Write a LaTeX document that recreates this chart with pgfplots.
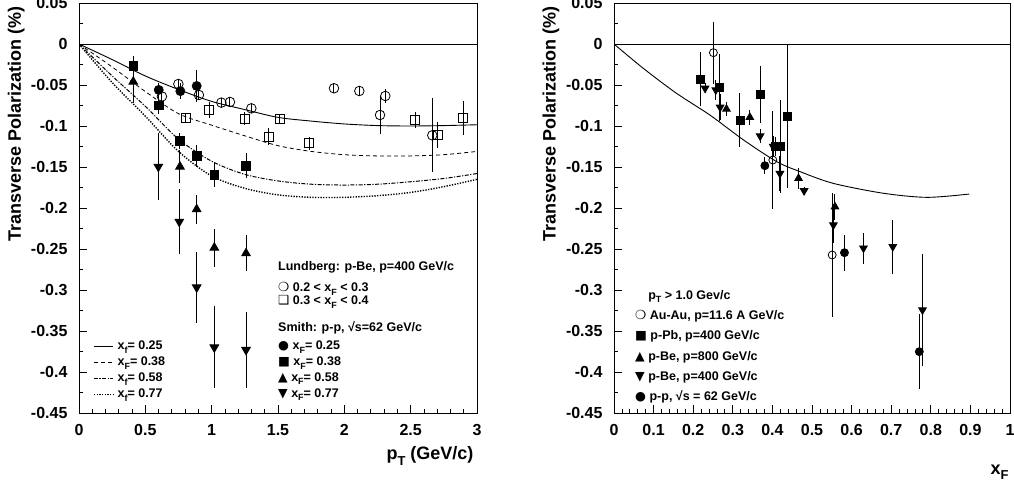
\documentclass[border=0pt]{standalone}
\usepackage{fontspec}
\setmainfont{Liberation Sans}
\newfontfamily\sym{DejaVu Sans}
\usepackage{graphicx}
\usepackage{pgfplots}
\pgfplotsset{compat=1.18}
\newcommand\sub[1]{\raisebox{-0.3em}{\scalebox{0.72}{#1}}}

\pgfplotsset{
 rootax/.style={
  scale only axis, width=398pt, height=410pt, anchor=south west,
  axis line style={line width=0.9pt},
  tick align=inside, xtick pos=bottom, ytick pos=left,
  major tick length=8pt, minor tick length=4pt,
  every tick/.style={black, line width=0.8pt},
  ymin=-0.45, ymax=0.05,
  ytick={-0.45,-0.4,-0.35,-0.3,-0.25,-0.2,-0.15,-0.1,-0.05,0,0.05},
  yticklabels={-0.45,-0.4,-0.35,-0.3,-0.25,-0.2,-0.15,-0.1,-0.05,0,0.05},
  minor y tick num=1,
  tick label style={font=\bfseries\fontsize{16}{16}\selectfont},
  yticklabel style={xshift=-8pt},
  xticklabel style={yshift=-8pt},
  label style={font=\bfseries\fontsize{18}{18}\selectfont},
  ylabel={Transverse Polarization (\%)},
  ylabel style={at={(axis description cs:-0.158,1.0)}, anchor=east},
 },
 eb/.style={only marks, black, line width=0.8pt, forget plot,
   error bars/y dir=both, error bars/y explicit, error bars/error mark=none,
   error bars/error bar style={line width=1pt, black}},
}
\tikzset{lg/.style={font=\bfseries\fontsize{12.5}{13}\selectfont, anchor=base west, inner sep=0pt}}

\begin{document}
\begin{tikzpicture}

% ---------------- left panel ----------------
\begin{axis}[rootax, at={(79pt,68pt)},
  xmin=0, xmax=3,
  xtick={0,0.5,1,1.5,2,2.5,3},
  xticklabels={0,0.5,1,1.5,2,2.5,3},
  minor x tick num=4,
  xlabel={p\sub{T} (GeV/c)},
  xlabel style={at={(axis description cs:1,-0.105)}, anchor=east},
  legend style={at={(axis cs:0.1055,-0.3616)}, anchor=north west, draw=none, fill=none,
     inner sep=0pt, row sep=4pt, cells={anchor=west},
     font=\bfseries\fontsize{12.5}{13}\selectfont,
     nodes={inner sep=0pt, text height=9pt, text depth=3pt},
     /tikz/every odd column/.append style={column sep=4pt}},
  legend image code/.code={\draw[#1] (0pt,0pt) -- (19pt,0pt);},
]
\addplot[black, line width=0.9pt, smooth] coordinates {
 (0,0) (0.25,-0.019) (0.5,-0.039) (0.75,-0.0555) (1.0,-0.070) (1.25,-0.080)
 (1.5,-0.0895) (1.75,-0.094) (2.0,-0.0975) (2.25,-0.0995) (2.5,-0.100)
 (2.75,-0.0995) (3.0,-0.0985)};
\addlegendentry{x\sub{f}= 0.25}
\addplot[black, line width=0.8pt, dash pattern=on 4pt off 3pt, smooth] coordinates {
 (0,0) (0.25,-0.028) (0.5,-0.058) (0.75,-0.085) (1.0,-0.099) (1.25,-0.112)
 (1.5,-0.124) (1.75,-0.131) (2.0,-0.135) (2.25,-0.1365) (2.5,-0.1365)
 (2.75,-0.135) (3.0,-0.131)};
\addlegendentry{x\sub{F}= 0.38}
\addplot[black, line width=1pt, dash pattern=on 4pt off 1.5pt on 1.2pt off 1.5pt, smooth] coordinates {
 (0,0) (0.25,-0.039) (0.5,-0.076) (0.75,-0.116) (1.0,-0.143) (1.25,-0.159)
 (1.5,-0.167) (1.75,-0.171) (2.0,-0.172) (2.25,-0.171) (2.5,-0.168)
 (2.75,-0.164) (3.0,-0.158)};
\addlegendentry{x\sub{f}= 0.58}
\addplot[black, line width=1.4pt, dash pattern=on 1.3pt off 1.4pt, smooth] coordinates {
 (0,0) (0.25,-0.047) (0.5,-0.088) (0.75,-0.131) (1.0,-0.161) (1.25,-0.176)
 (1.5,-0.184) (1.75,-0.187) (2.0,-0.187) (2.25,-0.185) (2.5,-0.181)
 (2.75,-0.174) (3.0,-0.165)};
\addlegendentry{x\sub{f}= 0.77}

\addplot[black, line width=0.8pt, forget plot] coordinates {(0,0) (3,0)};

% Lundberg 0.2<xF<0.3 (open circles)
\addplot[eb, mark=o, mark size=4.8pt] table[x=x,y=y,y error=e, row sep=\\] {
x y e \\
0.625 -0.0640 0.006 \\
0.749 -0.0488 0.006 \\
0.904 -0.0622 0.006 \\
1.073 -0.0715 0.006 \\
1.138 -0.0707 0.006 \\
1.299 -0.0785 0.006 \\
1.922 -0.0540 0.006 \\
2.113 -0.0573 0.006 \\
2.309 -0.0634 0.008 \\
2.269 -0.0866 0.023 \\
2.663 -0.1114 0.045 \\
};
% Lundberg 0.3<xF<0.4 (open squares)
\addplot[eb, mark=square, mark size=4.5pt] table[x=x,y=y,y error=e, row sep=\\] {
x y e \\
0.806 -0.0906 0.006 \\
0.982 -0.0805 0.010 \\
1.249 -0.0910 0.008 \\
1.430 -0.1130 0.010 \\
1.515 -0.0919 0.006 \\
1.736 -0.1211 0.008 \\
2.535 -0.0927 0.010 \\
2.706 -0.1112 0.016 \\
2.897 -0.0904 0.021 \\
};
% Smith xF=0.25 (filled circles)
\addplot[eb, mark=*, mark size=4.5pt] table[x=x,y=y,y error=e, row sep=\\] {
x y e \\
0.601 -0.0560 0.009 \\
0.764 -0.0575 0.010 \\
0.887 -0.0512 0.019 \\
};
% Smith xF=0.38 (filled squares)
\addplot[eb, mark=square*, mark size=4.3pt] table[x=x,y=y,y error=e, row sep=\\] {
x y e \\
0.409 -0.0268 0.012 \\
0.601 -0.0748 0.010 \\
0.761 -0.1180 0.010 \\
0.887 -0.1366 0.013 \\
1.020 -0.1594 0.0145 \\
1.259 -0.1484 0.015 \\
};
% Smith xF=0.58 (triangles up)
\addplot[eb, mark=triangle*, mark size=5pt] table[x=x,y=y,y error=e, row sep=\\] {
x y e \\
0.409 -0.0460 0.026 \\
0.761 -0.1496 0.020 \\
0.887 -0.2016 0.018 \\
1.020 -0.2484 0.023 \\
1.259 -0.2553 0.022 \\
};
% Smith xF=0.77 (triangles down)
\addplot[eb, mark=triangle*, mark size=5pt, mark options={rotate=180}] table[x=x,y=y,y error=e, row sep=\\] {
x y e \\
0.598 -0.1496 0.041 \\
0.756 -0.2167 0.040 \\
0.887 -0.2968 0.043 \\
1.020 -0.3700 0.050 \\
1.259 -0.3730 0.046 \\
};

\node[lg] at (axis cs:1.5,-0.2768) {Lundberg: p-Be, p=400 GeV/c};
\node[lg] at (axis cs:1.5,-0.3018) {{\sym ❍} 0.2 < x\sub{F} < 0.3};
\node[lg] at (axis cs:1.5,-0.3177) {{\sym ❑} 0.3 < x\sub{F} < 0.4};
\node[lg] at (axis cs:1.5,-0.3512) {Smith: p-p, √s=62 GeV/c};
\node[lg] at (axis cs:1.5,-0.3726) {{\sym ●} x\sub{F}= 0.25};
\node[lg] at (axis cs:1.5,-0.3920) {{\sym ■} x\sub{F}= 0.38};
\node[lg] at (axis cs:1.5,-0.4110) {{\sym ▲} x\sub{F}= 0.58};
\node[lg] at (axis cs:1.5,-0.4305) {{\sym ▼} x\sub{F}= 0.77};
\end{axis}

% ---------------- right panel ----------------
\begin{axis}[rootax, at={(614pt,68pt)}, width=396pt,
  xmin=0, xmax=1,
  xtick={0,0.1,0.2,0.3,0.4,0.5,0.6,0.7,0.8,0.9,1},
  xticklabels={0,0.1,0.2,0.3,0.4,0.5,0.6,0.7,0.8,0.9,1},
  minor x tick num=4,
  xlabel={x\sub{F}},
  xlabel style={at={(axis description cs:1.005,-0.144)}, anchor=east},
  ylabel style={at={(axis description cs:-0.159,1.0)}, anchor=east},
]
\addplot[black, line width=0.8pt, forget plot] coordinates {(0,0) (1,0)};
\addplot[black, line width=0.9pt, smooth, forget plot] coordinates {
 (0,0) (0.074,-0.0297) (0.158,-0.0602) (0.242,-0.0866) (0.327,-0.1170)
 (0.411,-0.1435) (0.47,-0.1557) (0.554,-0.1700) (0.68,-0.1820)
 (0.79,-0.1870) (0.897,-0.1830)};

% Au-Au open circles
\addplot[eb, mark=o, mark size=4pt] table[x=x,y=y,y error=e, row sep=\\] {
x y e \\
0.251 -0.0106 0.038 \\
0.401 -0.1415 0.0595 \\
0.551 -0.2573 0.076 \\
};
% p-Pb squares
\addplot[eb, mark=square*, mark size=4pt] table[x=x,y=y,y error=e, row sep=\\] {
x y e \\
0.219 -0.0431 0.033 \\
0.266 -0.0528 0.041 \\
0.318 -0.0927 0.033 \\
0.369 -0.0614 0.0345 \\
0.407 -0.1250 0.012 \\
0.421 -0.1250 0.057 \\
0.438 -0.0878 0.088 \\
};
% p-Be 800 triangles up
\addplot[eb, mark=triangle*, mark size=4.4pt] table[x=x,y=y,y error=e, row sep=\\] {
x y e \\
0.284 -0.0793 0.009 \\
0.343 -0.0894 0.009 \\
0.466 -0.1638 0.013 \\
0.558 -0.1985 0.016 \\
};
% p-Be 400 triangles down
\addplot[eb, mark=triangle*, mark size=4.4pt, mark options={rotate=180}] table[x=x,y=y,y error=e, row sep=\\] {
x y e \\
0.230 -0.0540 0.006 \\
0.257 -0.0561 0.012 \\
0.268 -0.0772 0.016 \\
0.369 -0.1122 0.008 \\
0.402 -0.1250 0.013 \\
0.419 -0.1580 0.021 \\
0.480 -0.1790 0.005 \\
0.554 -0.2207 0.022 \\
0.630 -0.2490 0.019 \\
0.704 -0.2472 0.033 \\
0.779 -0.3244 0.068 \\
};
% p-p circles
\addplot[eb, mark=*, mark size=4pt] table[x=x,y=y,y error=e, row sep=\\] {
x y e \\
0.381 -0.1484 0.010 \\
0.582 -0.2545 0.022 \\
0.771 -0.3752 0.046 \\
};

\node[lg] at (axis cs:0.086,-0.311) {p\sub{T} > 1.0 Gev/c};
\node[lg] at (axis cs:0.053,-0.3354) {{\sym ❍} Au-Au, p=11.6 A GeV/c};
\node[lg] at (axis cs:0.053,-0.3598) {{\sym ■} p-Pb, p=400 GeV/c};
\node[lg] at (axis cs:0.053,-0.3854) {{\sym ▲} p-Be, p=800 GeV/c};
\node[lg] at (axis cs:0.053,-0.4106) {{\sym ▼} p-Be, p=400 GeV/c};
\node[lg] at (axis cs:0.053,-0.4350) {{\sym ●} p-p, √s = 62 GeV/c};
\end{axis}
\pgfresetboundingbox
\useasboundingbox (0pt,0pt) rectangle (1014pt,481pt);
\end{tikzpicture}
\end{document}
